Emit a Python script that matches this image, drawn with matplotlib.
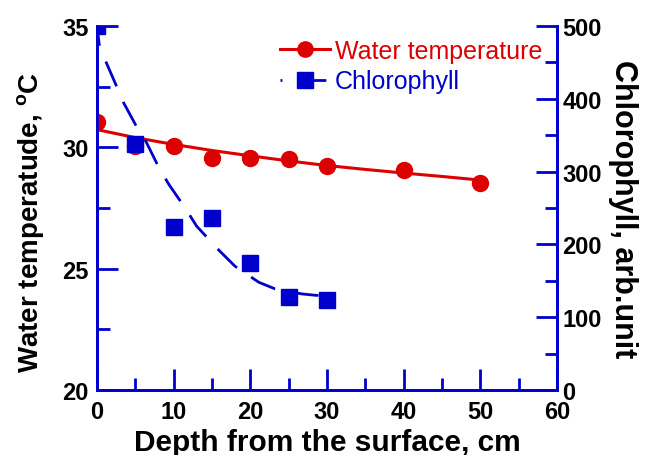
import matplotlib
matplotlib.use("Agg")
import matplotlib.pyplot as plt
from matplotlib.ticker import MultipleLocator
from matplotlib.lines import Line2D

plt.rcParams['font.family'] = ['Liberation Sans', 'DejaVu Sans']

depth_t = [0, 5, 10, 15, 20, 25, 30, 40, 50]
temp = [31.05, 30.05, 30.05, 29.55, 29.55, 29.5, 29.25, 29.05, 28.55]
fit_t_x = [0, 5, 10, 15, 20, 25, 30, 35, 40, 45, 50]
fit_t_y = [30.73, 30.4, 30.12, 29.87, 29.65, 29.44, 29.25, 29.09, 28.94, 28.8, 28.65]

depth_c = [0, 5, 10, 15, 20, 25, 30]
chl = [500, 338, 224, 236, 174, 128, 124]
fit_c_x = [0, 0.3, 1.2, 2.6, 3.5, 5.2, 6.4, 8.1, 9.4, 11.5, 13.0, 15.9, 18.0, 21.1, 23.2, 26.7, 28.6, 30.4]
fit_c_y = [500, 474, 450, 416, 394, 361, 341, 305, 282, 250, 225, 192, 170, 148, 139, 132, 130, 130]

RED = '#dd0000'
BLUE = '#0000cc'

fig = plt.figure(figsize=(6.46, 4.56), dpi=100)
ax = fig.add_axes([97/646, 1-391/456, 460/646, 364/456])
ax2 = ax.twinx()

ax.plot(fit_t_x, fit_t_y, color=RED, lw=2.2, zorder=2)
ax.plot(depth_t, temp, 'o', color=RED, ms=11.5, zorder=3)
ax2.plot(fit_c_x, fit_c_y, color=BLUE, lw=2.0, linestyle=(2.5, (9.7, 6.1)), zorder=2)
ax2.plot(depth_c, chl, 's', color=BLUE, ms=12, zorder=3)

ax.set_xlim(0, 60)
ax.set_ylim(20, 35)
ax2.set_ylim(0, 500)

for a in (ax, ax2):
    a.spines['top'].set_visible(False)
    for s in ('left', 'right', 'bottom'):
        a.spines[s].set_color(BLUE)
        a.spines[s].set_linewidth(2)
    a.tick_params(which='both', direction='in', color=BLUE, width=2)
    a.tick_params(which='major', length=15, labelsize=17)
    a.tick_params(which='minor', length=9)

ax.xaxis.set_major_locator(MultipleLocator(10))
ax.xaxis.set_minor_locator(MultipleLocator(5))
ax.yaxis.set_major_locator(MultipleLocator(5))
ax.yaxis.set_minor_locator(MultipleLocator(2.5))
ax2.yaxis.set_major_locator(MultipleLocator(100))
ax2.yaxis.set_minor_locator(MultipleLocator(50))

for lab in ax.get_xticklabels() + ax.get_yticklabels() + ax2.get_yticklabels():
    lab.set_fontweight('bold')
ax.tick_params(axis='x', pad=7.5)
ax.tick_params(axis='y', pad=6)
ax2.tick_params(axis='y', pad=4)

ax.set_xlabel('Depth from the surface, cm', fontsize=21.5, fontweight='bold', labelpad=3)
ax.set_ylabel('Water temperatude, $\\mathregular{^oC}$', fontsize=20, fontweight='bold')
ax.yaxis.set_label_coords(-0.111, 0.4615)
ax2.set_ylabel('Chlorophyll, arb.unit', fontsize=22, fontweight='bold', rotation=270, labelpad=26)

h1 = Line2D([], [], color=RED, lw=2.2, marker='o', ms=11)
h2 = Line2D([], [], color=BLUE, lw=2.0, marker='s', ms=11, linestyle=(9.0, (9.7, 6.1)))
leg = ax.legend([h1, h2], ['Water temperature', 'Chlorophyll'], loc='upper right',
                bbox_to_anchor=(1.0, 1.005), frameon=False, fontsize=18,
                handlelength=2.0, handletextpad=0.2, labelspacing=0.25,
                borderaxespad=0.2)
leg.get_texts()[0].set_color(RED)
leg.get_texts()[1].set_color(BLUE)

fig.savefig('out.png', dpi=100)
